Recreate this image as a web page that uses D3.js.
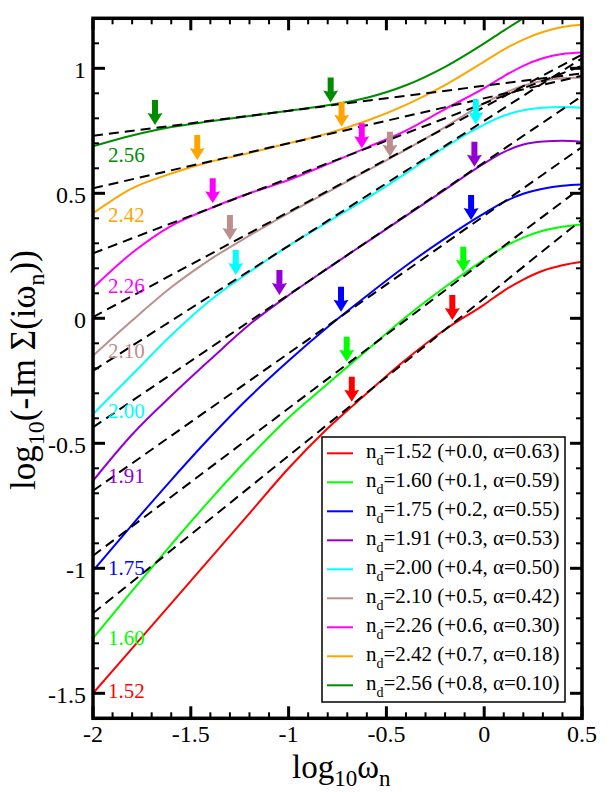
<!DOCTYPE html>
<html><head><meta charset="utf-8">
<script src="https://cdn.jsdelivr.net/npm/d3@7"></script>
<style>
body{margin:0;background:#fff}
svg{display:block}
text{font-family:"Liberation Serif","Times New Roman",serif;fill:#000}
</style>
</head><body>
<svg id="chart" width="612" height="792"></svg>
<script>
// ---------- data ----------
const xGrid = [-2, -1.8, -1.6, -1.4, -1.2, -1.0, -0.8, -0.6, -0.4, -0.2, 0, 0.1, 0.2, 0.3, 0.4, 0.5];
const ndLabels = ["1.52", "1.60", "1.75", "1.91", "2.00", "2.10", "2.26", "2.42", "2.56"];
const shifts   = ["+0.0", "+0.1", "+0.2", "+0.3", "+0.4", "+0.5", "+0.6", "+0.7", "+0.8"];
const alphas   = [0.63, 0.59, 0.55, 0.53, 0.50, 0.42, 0.30, 0.18, 0.10];
const colors   = ["#ff0000", "#00ff00", "#0000ff", "#9400d3", "#00ffff", "#bc8f8f", "#ff00ff", "#ffa500", "#008b00"];

const y152 = [-1.50, -1.32, -1.14, -0.96, -0.78, -0.60, -0.44, -0.30, -0.165, -0.045, 0.055, 0.11, 0.155, 0.19, 0.212, 0.226];
const y160 = [-1.28, -1.09, -0.905, -0.725, -0.555, -0.398, -0.262, -0.128, 0.005, 0.125, 0.235, 0.285, 0.323, 0.35, 0.366, 0.375];
const y175 = [-1.01, -0.826, -0.647, -0.475, -0.315, -0.17, -0.035, 0.09, 0.21, 0.32, 0.42, 0.465, 0.498, 0.518, 0.53, 0.535];
const y191 = [-0.65, -0.465, -0.31, -0.165, -0.025, 0.092, 0.20, 0.305, 0.41, 0.515, 0.62, 0.665, 0.695, 0.707, 0.71, 0.706];
const y200 = [-0.383, -0.226, -0.068, 0.072, 0.185, 0.29, 0.385, 0.48, 0.58, 0.685, 0.775, 0.81, 0.832, 0.842, 0.845, 0.842];
const y210 = [-0.15, -0.009, 0.124, 0.236, 0.331, 0.421, 0.505, 0.59, 0.675, 0.765, 0.86, 0.9, 0.93, 0.95, 0.96, 0.963];
const y226 = [0.122, 0.262, 0.37, 0.44, 0.50, 0.553, 0.617, 0.683, 0.751, 0.837, 0.921, 0.968, 1.01, 1.04, 1.057, 1.063];
const y242 = [0.42, 0.52, 0.579, 0.626, 0.661, 0.70, 0.739, 0.79, 0.854, 0.933, 1.027, 1.075, 1.115, 1.145, 1.165, 1.174];
const y256 = [0.688, 0.731, 0.765, 0.788, 0.809, 0.83, 0.852, 0.882, 0.932, 1.006, 1.10, 1.151, 1.20, null, null, null];
const seriesY = [y152, y160, y175, y191, y200, y210, y226, y242, y256];

// power-law fit lines: value at log10(w) = -2, slope alpha
const fitAtLeft = [-1.18, -0.95, -0.69, -0.436, -0.21, 0.005, 0.26, 0.52, 0.73];

// arrows (tip positions)
const arrowX = [[-0.677, -0.163], [-0.703, -0.107], [-0.732, -0.067], [-1.047, -0.05], [-1.27, -0.043],
                [-1.30, -0.482], [-1.388, -0.626], [-1.467, -0.729], [-1.683, -0.785]];
const arrowY = [[-0.334, -0.007], [-0.174, 0.186], [0.026, 0.393], [0.093, 0.606], [0.173, 0.776],
                [0.313, 0.646], [0.46, 0.68], [0.633, 0.766], [0.773, 0.863]];

// curve label baselines (data units)
const labelY = [-1.519, -1.307, -1.027, -0.659, -0.399, -0.159, 0.101, 0.385, 0.625];

const xTicks = [-2, -1.5, -1, -0.5, 0, 0.5];
const xTickLabels = ["-2", "-1.5", "-1", "-0.5", "0", "0.5"];
const yTicks = [-1.5, -1, -0.5, 0, 0.5, 1];
const yTickLabels = ["-1.5", "-1", "-0.5", "0", "0.5", "1"];

// ---------- layout ----------
const L = 93, R = 582, T = 18.3, B = 718.3;
const svg = d3.select("#chart");
const x = d3.scaleLinear().domain([-2, 0.5]).range([L, R]);
const y = d3.scaleLinear().domain([-1.6, 1.2]).range([B, T]);

svg.append("defs").append("clipPath").attr("id", "clip")
  .append("rect").attr("x", L).attr("y", T).attr("width", R - L).attr("height", B - T);

const plot = svg.append("g").attr("clip-path", "url(#clip)");

// curves
const line = d3.line()
  .defined(d => d[1] !== null)
  .x(d => x(d[0])).y(d => y(d[1]))
  .curve(d3.curveMonotoneX);

seriesY.forEach((ys, i) => {
  plot.append("path")
    .datum(xGrid.map((xv, k) => [xv, ys[k]]))
    .attr("d", line)
    .attr("fill", "none")
    .attr("stroke", colors[i])
    .attr("stroke-width", 2);
});

// fit lines (dashed)
const fitLine = d3.line().x(d => x(d[0])).y(d => y(d[1]));
fitAtLeft.forEach((c, i) => {
  const xd = x.domain();
  plot.append("path")
    .datum([[xd[0], c], [xd[1], c + alphas[i] * (xd[1] - xd[0])]])
    .attr("d", fitLine)
    .attr("fill", "none")
    .attr("stroke", "#000")
    .attr("stroke-width", 2)
    .attr("stroke-dasharray", "10,6");
});

// arrows
arrowX.forEach((pair, i) => {
  pair.forEach((ax, j) => {
    const px = x(ax), py = y(arrowY[i][j]);
    const p = d3.path();
    p.moveTo(px - 3, py - 25);
    p.lineTo(px + 3, py - 25);
    p.lineTo(px + 3, py - 11);
    p.lineTo(px + 7.5, py - 12);
    p.lineTo(px, py);
    p.lineTo(px - 7.5, py - 12);
    p.lineTo(px - 3, py - 11);
    p.closePath();
    svg.append("path").attr("d", p.toString()).attr("fill", colors[i]);
  });
});

// curve labels
ndLabels.forEach((lab, i) => {
  svg.append("text")
    .attr("x", L + 15).attr("y", y(labelY[i]))
    .attr("font-size", 21)
    .style("fill", colors[i])
    .text(lab);
});

// legend
const lgX = 322, lgY = 437, lgW = 243, lgH = 265, rowH = 29.0;
const lg = svg.append("g");
lg.append("rect").attr("x", lgX).attr("y", lgY).attr("width", lgW).attr("height", lgH)
  .attr("fill", "#fff").attr("stroke", "#000").attr("stroke-width", 1.5);
ndLabels.forEach((lab, i) => {
  const cy = lgY + 16.3 + i * rowH;
  lg.append("line").attr("x1", lgX + 5).attr("x2", lgX + 31).attr("y1", cy).attr("y2", cy)
    .attr("stroke", colors[i]).attr("stroke-width", 2);
  const t = lg.append("text").attr("x", lgX + 44).attr("y", cy + 5).attr("font-size", 21);
  t.append("tspan").text("n");
  t.append("tspan").attr("font-size", 14).attr("dy", 7).text("d");
  t.append("tspan").attr("dy", -7).text("=" + lab + " (" + shifts[i] + ", \u03b1=" + alphas[i].toFixed(2) + ")");
});

// axes frame + ticks
const frame = svg.append("g");
const minorX = d3.range(-2, 0.5001, 0.1).map(v => +v.toFixed(2));
const minorY = d3.range(-1.6, 1.2001, 0.1).map(v => +v.toFixed(2));

minorX.forEach(v => {
  const major = xTicks.some(t => Math.abs(t - v) < 1e-6);
  const len = major ? 12 : 6, w = major ? 3 : 2;
  frame.append("line").attr("x1", x(v)).attr("x2", x(v)).attr("y1", B).attr("y2", B - len).attr("stroke", "#000").attr("stroke-width", w);
  frame.append("line").attr("x1", x(v)).attr("x2", x(v)).attr("y1", T).attr("y2", T + len).attr("stroke", "#000").attr("stroke-width", w);
});
minorY.forEach(v => {
  const major = yTicks.some(t => Math.abs(t - v) < 1e-6);
  const len = major ? 12 : 6, w = major ? 3 : 2;
  frame.append("line").attr("y1", y(v)).attr("y2", y(v)).attr("x1", L).attr("x2", L + len).attr("stroke", "#000").attr("stroke-width", w);
  frame.append("line").attr("y1", y(v)).attr("y2", y(v)).attr("x1", R).attr("x2", R - len).attr("stroke", "#000").attr("stroke-width", w);
});
frame.append("rect").attr("x", L).attr("y", T).attr("width", R - L).attr("height", B - T)
  .attr("fill", "none").attr("stroke", "#000").attr("stroke-width", 3.5);

// tick labels
xTicks.forEach((v, i) => {
  svg.append("text").attr("x", x(v)).attr("y", 742).attr("text-anchor", "middle")
    .attr("font-size", 24).text(xTickLabels[i]);
});
yTicks.forEach((v, i) => {
  svg.append("text").attr("x", 86).attr("y", y(v) + 10).attr("text-anchor", "end")
    .attr("font-size", 24).text(yTickLabels[i]);
});

// axis titles
const xt = svg.append("text").attr("x", 292).attr("y", 778).attr("text-anchor", "start").attr("font-size", 33);
xt.append("tspan").text("log");
xt.append("tspan").attr("font-size", 23).attr("dy", 8).text("10");
xt.append("tspan").attr("dy", -8).text("\u03c9");
xt.append("tspan").attr("font-size", 23).attr("dy", 8).text("n");

const yt = svg.append("text").attr("transform", "translate(35,370) rotate(-90)").attr("text-anchor", "middle").attr("font-size", 35);
yt.append("tspan").text("log");
yt.append("tspan").attr("font-size", 24).attr("dy", 9).text("10");
yt.append("tspan").attr("dy", -9).text("(-Im \u03a3(i\u03c9");
yt.append("tspan").attr("font-size", 24).attr("dy", 9).text("n");
yt.append("tspan").attr("dy", -9).text("))");
</script>
</body></html>
